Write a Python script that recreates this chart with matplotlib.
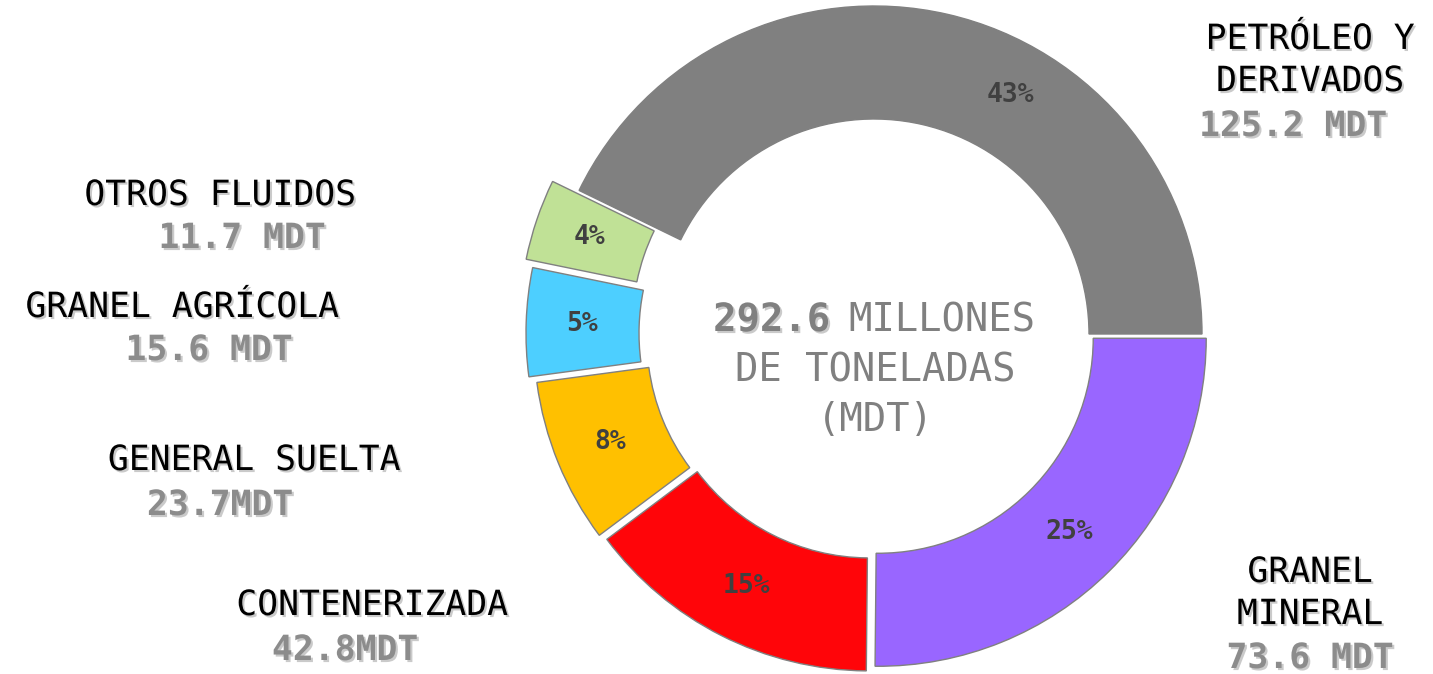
import matplotlib
matplotlib.use("Agg")
import matplotlib.pyplot as plt
import matplotlib.patheffects as pe

# data (millions of tonnes)
categories = ["PETRÓLEO Y\nDERIVADOS", "GRANEL\nMINERAL", "CONTENERIZADA",
              "GENERAL SUELTA", "GRANEL AGRÍCOLA", "OTROS FLUIDOS"]
values = [125.2, 73.6, 42.8, 23.7, 15.6, 11.7]
value_labels = ["125.2 MDT", "73.6 MDT", "42.8MDT", "23.7MDT", "15.6 MDT", "11.7 MDT"]
total_label = "292.6"

colors = ["#808080", "#9966ff", "#ff0509", "#ffc000", "#4dcfff", "#c0e196"]
explode = [0, 6, 10, 13, 20, 28]  # pixels

W, H = 1433, 674
FONT = "DejaVu Sans Mono"
shadow = [pe.withSimplePatchShadow(offset=(1.5, -1.5), shadow_rgbFace="#a0a0a0", alpha=0.55)]

fig = plt.figure(figsize=(W / 100, H / 100), dpi=100)
ax = fig.add_axes([0, 0, 1, 1])

total = sum(values)
wedges, texts, pcts = ax.pie(
    values, colors=colors, explode=explode, radius=328, center=(874, H - 334),
    startangle=360 * values[0] / total, counterclock=False,
    wedgeprops=dict(width=113, edgecolor="#808080", linewidth=1),
    autopct="%.0f%%", pctdistance=0.83,
    textprops=dict(family=FONT, fontsize=19, fontweight="bold", color="#404040"),
)
# Excel put the big slice's label off its mid angle
pcts[0].set_position((1010, H - 95))

ax.set_xlim(0, W)
ax.set_ylim(0, H)
ax.set_aspect("equal")
ax.axis("off")

# (name x, name y, value x, value y) in image pixels, y from top
label_pos = [
    (1310, 60, 1293, 126),
    (1310, 593, 1310, 658),
    (372, 605, 345, 650),
    (254, 460, 220, 505),
    (182, 307, 209, 350),
    (220, 195, 242, 238),
]
for name, val, (nx, ny, vx, vy) in zip(categories, value_labels, label_pos):
    ax.text(nx, H - ny, name, ha="center", va="center", family=FONT, fontsize=25,
            color="black", linespacing=1.3, path_effects=shadow)
    ax.text(vx, H - vy, val, ha="center", va="center", family=FONT, fontsize=25,
            fontweight="bold", color="#8c8c8c", path_effects=shadow)

# centre caption
ax.text(830, H - 320, total_label, ha="right", va="center", family=FONT, fontsize=28,
        fontweight="bold", color="#808080", path_effects=shadow)
ax.text(848, H - 320, "MILLONES", ha="left", va="center", family=FONT, fontsize=28,
        color="#808080")
ax.text(875, H - 395, "DE TONELADAS\n(MDT)", ha="center", va="center", family=FONT,
        fontsize=28, color="#808080", linespacing=1.4)

fig.savefig("out.png", dpi=100)
